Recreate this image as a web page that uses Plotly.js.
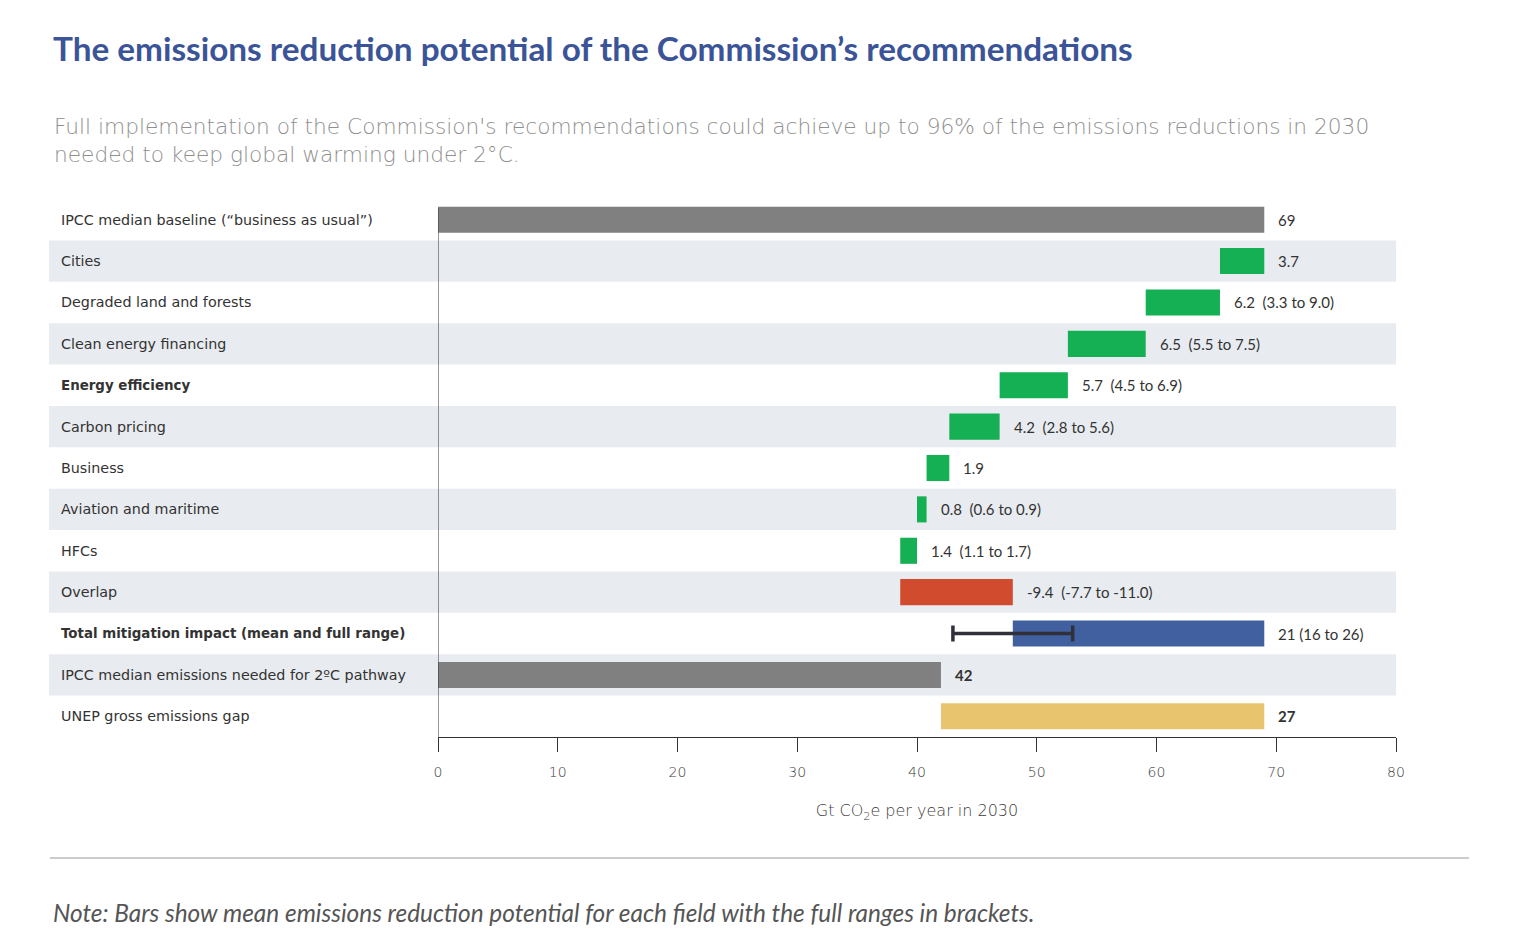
<!DOCTYPE html>
<html>
<head>
<meta charset="utf-8">
<script src="https://cdn.plot.ly/plotly-3.0.1.min.js"></script>
<style>
  html, body { margin: 0; padding: 0; background: #fff; }
  #chart { width: 1513px; height: 947px; }
</style>
</head>
<body>
<div id="chart"></div>
<script>
// ---- data ----
const categories = [
  'IPCC median baseline (“business as usual”)',
  'Cities',
  'Degraded land and forests',
  'Clean energy financing',
  'Energy efficiency',
  'Carbon pricing',
  'Business',
  'Aviation and maritime',
  'HFCs',
  'Overlap',
  'Total mitigation impact (mean and full range)',
  'IPCC median emissions needed for 2ºC pathway',
  'UNEP gross emissions gap'
];
const baseline = 69;
const reductions = [3.7, 6.2, 6.5, 5.7, 4.2, 1.9, 0.8, 1.4];
const overlap = -9.4;
const totalImpact = 21;
const totalRangeLow = 16;
const totalRangeHigh = 26;
const needed2C = 42;
const emissionsGap = 27;
const rangeLabels = ['', '', '(3.3 to 9.0)', '(5.5 to 7.5)', '(4.5 to 6.9)', '(2.8 to 5.6)', '', '(0.6 to 0.9)', '(1.1 to 1.7)', '(-7.7 to -11.0)', '(16 to 26)', '', ''];
const valueLabels = ['69', '3.7', '6.2', '6.5', '5.7', '4.2', '1.9', '0.8', '1.4', '-9.4', '21', '42', '27'];
const boldRows = ['Energy efficiency', 'Total mitigation impact (mean and full range)'];
const xTicks = [0, 10, 20, 30, 40, 50, 60, 70, 80];

// ---- derived bar geometry (from data) ----
const bases = [], lengths = [], colors = [];
const GRAY = '#808080', GREEN = '#15af54', RED = '#d14b2f', BLUE = '#41609f', YELLOW = '#e9c46f';
bases.push(0); lengths.push(baseline); colors.push(GRAY);
let running = baseline;
reductions.forEach(v => { running -= v; bases.push(running); lengths.push(v); colors.push(GREEN); });
bases.push(running); lengths.push(-overlap); colors.push(RED); running -= overlap;
bases.push(running); lengths.push(totalImpact); colors.push(BLUE);
bases.push(0); lengths.push(needed2C); colors.push(GRAY);
bases.push(needed2C); lengths.push(emissionsGap); colors.push(YELLOW);

// ---- layout helpers (pixel -> paper) ----
const W = 1513, H = 947;
const L = 438, R = 1396, T = 199, B = 737;
const px = x => (x - L) / (R - L);
const py = y => (B - y) / (B - T);

const barTrace = {
  type: 'bar', orientation: 'h',
  y: categories, x: lengths, base: bases,
  marker: { color: colors, line: { width: 0 } },
  width: 0.63, hoverinfo: 'skip', showlegend: false
};
const errTrace = {
  type: 'scatter', mode: 'markers',
  y: [categories[10]], x: [baseline - totalImpact],
  marker: { size: 1, opacity: 0 },
  error_x: {
    type: 'data', symmetric: false,
    array: [totalImpact - totalRangeLow],
    arrayminus: [totalRangeHigh - totalImpact],
    color: '#30303a', thickness: 3.5, width: 8
  },
  hoverinfo: 'skip', showlegend: false
};

const shapes = [];
categories.forEach((c, i) => {
  if (i % 2 === 1) {
    shapes.push({ type: 'rect', layer: 'below', xref: 'paper', yref: 'y',
      x0: px(49), x1: px(1396), y0: i - 0.5, y1: i + 0.5,
      fillcolor: '#e8ebf0', line: { width: 0 } });
  }
});
// vertical axis line (starts at the top of the first bar, as in the reference)
shapes.push({ type: 'line', xref: 'x', yref: 'paper', x0: 0, x1: 0, y0: py(208), y1: 0,
  line: { color: '#333333', width: 1 } });
shapes.push({ type: 'line', xref: 'paper', yref: 'paper', x0: px(50), x1: px(1469), y0: py(858), y1: py(858),
  line: { color: '#999999', width: 1 } });

const annotations = [];
categories.forEach((c, i) => {
  const bold = boldRows.includes(c);
  annotations.push({ xref: 'paper', yref: 'y', x: px(59), y: c, xanchor: 'left', yanchor: 'middle',
    text: bold ? '<b>' + c + '</b>' : c, showarrow: false,
    font: { family: 'DejaVu Sans, Arial, sans-serif', size: bold ? 13.4 : 14.3, color: '#333333' } });
  const isBoldVal = (i === 11 || i === 12);
  let t = valueLabels[i];
  if (rangeLabels[i]) t += (i === 10 ? ' ' : '\u00a0\u00a0') + rangeLabels[i];
  annotations.push({ xref: 'x', yref: 'y', x: bases[i] + lengths[i], y: c, xanchor: 'left', yanchor: 'middle',
    xshift: 12, text: isBoldVal ? '<b>' + t + '</b>' : t, showarrow: false,
    font: { family: 'Lato, sans-serif', size: 15, color: '#333333' } });
});
// titles
annotations.push({ xref: 'paper', yref: 'paper', x: px(51), y: py(48), xanchor: 'left', yanchor: 'middle',
  text: '<b>The emissions reduction potential of the Commission’s recommendations</b>', showarrow: false,
  font: { family: 'Lato, sans-serif', size: 33.3, color: '#3b5497' } });
annotations.push({ xref: 'paper', yref: 'paper', x: px(52), y: py(140), xanchor: 'left', yanchor: 'middle', align: 'left',
  text: 'Full implementation of the Commission\'s recommendations could achieve up to 96% of the emissions reductions in 2030<br>needed to keep global warming under 2°C.',
  showarrow: false,
  font: { family: 'DejaVu Sans, sans-serif', size: 21.7, color: '#8f8f8f', weight: 200 } });
annotations.push({ xref: 'paper', yref: 'paper', x: px(51), y: py(912), xanchor: 'left', yanchor: 'middle',
  text: '<i>Note: Bars show mean emissions reduction potential for each field with the full ranges in brackets.</i>',
  showarrow: false,
  font: { family: 'Lato, sans-serif', size: 24.4, color: '#555555' } });

const layout = {
  width: W, height: H,
  margin: { l: L, r: W - R, t: T, b: H - B, pad: 0 },
  paper_bgcolor: '#ffffff', plot_bgcolor: 'rgba(0,0,0,0)',
  font: { family: 'Lato, sans-serif', color: '#333333' },
  xaxis: {
    range: [0, 80], tickvals: xTicks, ticktext: xTicks.map(String),
    showgrid: false, zeroline: false, showline: true, linecolor: '#333333', linewidth: 1,
    ticks: 'outside', ticklen: 14, tickcolor: '#333333', tickwidth: 1,
    ticklabelstandoff: 8,
    tickfont: { family: 'DejaVu Sans, Arial, sans-serif', size: 14, color: '#3a3a3a', weight: 300 },
    title: { text: 'Gt CO<sub>2</sub>e per year in 2030', standoff: 26,
      font: { family: 'DejaVu Sans, Arial, sans-serif', size: 16, color: '#3a3a3a', weight: 300 } },
    fixedrange: true
  },
  yaxis: {
    type: 'category', autorange: false, range: [categories.length - 0.5, -0.5],
    showticklabels: false, showgrid: false, zeroline: false,
    showline: false, ticks: '', fixedrange: true
  },
  bargap: 0.37,
  shapes: shapes,
  annotations: annotations,
  showlegend: false
};

Plotly.newPlot('chart', [barTrace, errTrace], layout, { displayModeBar: false, staticPlot: true });
</script>
</body>
</html>
